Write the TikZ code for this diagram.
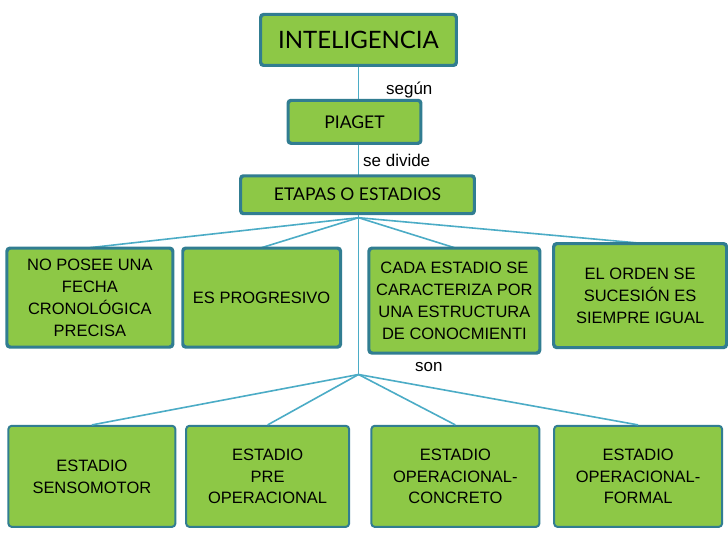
\documentclass[tikz,border=0pt]{standalone}
\usepackage{fontspec}
\setmainfont{Liberation Sans}
\newfontfamily\boxfont{Lato}
\definecolor{boxgreen}{RGB}{141,200,70}
\definecolor{boxedge}{RGB}{49,125,145}
\definecolor{linkblue}{RGB}{75,172,198}
\begin{document}
\begin{tikzpicture}
  [
    x=1pt, y=-1pt,
    concept/.style={draw=boxedge, line width=2pt, fill=boxgreen, rounded corners=3pt,
      align=center, font=\fontsize{16.5}{22}\selectfont, inner sep=2pt},
    topconcept/.style={concept, font=\boxfont\fontsize{17.5}{20}\selectfont},
    link/.style={draw=linkblue, line width=1.6pt},
    tag/.style={fill=white, font=\fontsize{17}{19}\selectfont, inner sep=1.5pt, anchor=west}
  ]
  \fill[white] (0,0) rectangle (728,546);
  % upper chain
  \node[topconcept, minimum width=195pt, minimum height=50pt, font=\boxfont\fontsize{24}{26}\selectfont] (intel) at (359,40) {INTELIGENCIA};
  \node[topconcept, minimum width=132pt, minimum height=42pt] (piaget) at (355,122) {PIAGET};
  \node[topconcept, minimum width=233pt, minimum height=37pt] (etapas) at (358,195) {ETAPAS O ESTADIOS};
  \coordinate (hubA) at (359,218);
  \coordinate (hubB) at (359,375);
  % features
  \node[concept, minimum width=165pt, minimum height=98pt] (fecha) at (90,298) {NO POSEE UNA\\FECHA\\CRONOLÓGICA\\PRECISA};
  \node[concept, minimum width=157pt, minimum height=98pt] (progresivo) at (262,298) {ES PROGRESIVO};
  \node[concept, minimum width=170pt, minimum height=104pt] (estructura) at (455,301) {CADA ESTADIO SE\\CARACTERIZA POR\\UNA ESTRUCTURA\\DE CONOCMIENTI};
  \node[concept, minimum width=172pt, minimum height=103pt] (orden) at (641,296) {EL ORDEN SE\\SUCESIÓN ES\\SIEMPRE IGUAL};
  % stages
  \node[concept, minimum width=167pt, minimum height=101pt] (senso) at (92,477) {ESTADIO\\SENSOMOTOR};
  \node[concept, minimum width=163pt, minimum height=101pt] (preop) at (268,477) {ESTADIO\\PRE\\OPERACIONAL};
  \node[concept, minimum width=168pt, minimum height=101pt] (concreto) at (456,477) {ESTADIO\\OPERACIONAL-\\CONCRETO};
  \node[concept, minimum width=168pt, minimum height=101pt] (formal) at (639,477) {ESTADIO\\OPERACIONAL-\\FORMAL};
  % connectors
  \draw[link] (hubA |- intel.south) -- (hubA |- piaget.north);
  \draw[link] (hubA |- piaget.south) -- (hubA |- etapas.north);
  \foreach \n in {fecha,progresivo,estructura,orden}
    \draw[link] (hubA) -- (\n.north);
  \draw[link] (hubA |- etapas.south) -- (hubB);
  \foreach \n in {senso,preop,concreto,formal}
    \draw[link] (hubB) -- (\n.north);
  \node[tag] (segun) at (385,90) {según};
  \node[tag] (divide) at (362,161) {se divide};
  \node[tag] (son) at (414,368) {son};
  % redraw boxes over the links
  \foreach \n in {fecha,progresivo,estructura,orden,etapas,intel,piaget}
    \draw[boxedge, line width=2pt, rounded corners=3pt] (\n.south west) rectangle (\n.north east);
\end{tikzpicture}
\end{document}
